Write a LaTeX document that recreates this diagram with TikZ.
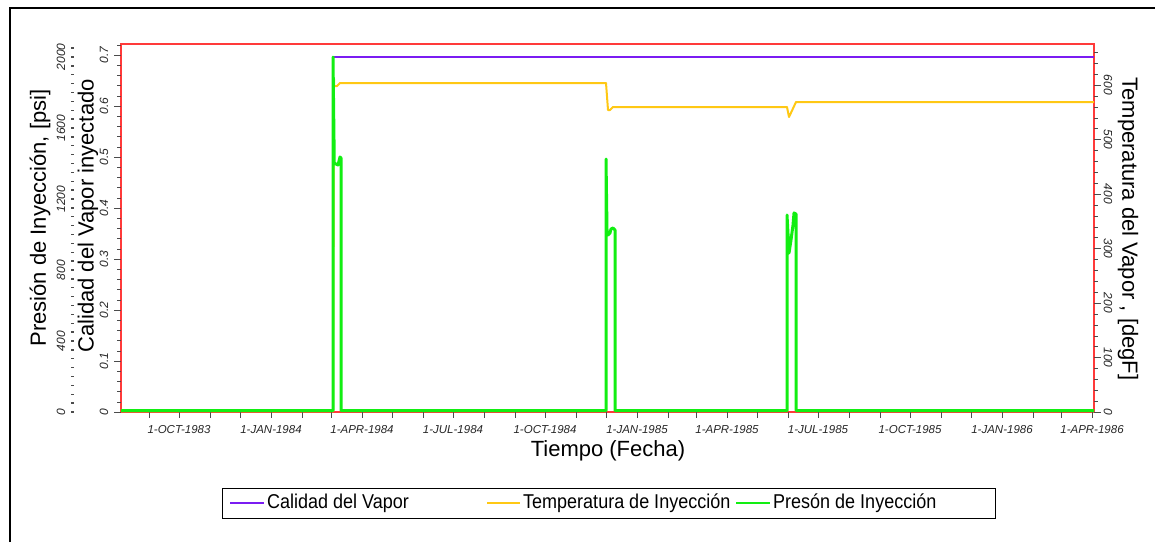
\documentclass[tikz,border=0pt]{standalone}
\usepackage{fontspec}
\setmainfont{Liberation Sans}
\newfontfamily\legfont[FakeStretch=0.9]{Liberation Sans}
\definecolor{plotred}{HTML}{FF3A3A}
\definecolor{calidad}{HTML}{7B1CF2}
\definecolor{tempe}{HTML}{FFC814}
\definecolor{presion}{HTML}{12EE12}
\begin{document}
\begin{tikzpicture}[x=1pt,y=-1pt,
  ticklab/.style={font=\fontsize{12}{14}\selectfont\itshape, text=black!85, inner sep=1pt},
  axtitle/.style={font=\fontsize{22}{26}\selectfont, inner sep=0pt},
  legtext/.style={font=\legfont\fontsize{20}{24}\selectfont, anchor=west, inner sep=2pt},
  serie/.style={line width=2pt, line join=round}]
\useasboundingbox (0,0) rectangle (1155,542);
\draw[line width=2.5pt] (10,542) -- (10,8) -- (1155,8);

% marco del grafico
\draw[plotred, line width=1.2pt] (121,44) rectangle (1094,412);

% eje de presion (psi)
\foreach \p in {0,50,...,2050}
	\draw[black!70, line width=1.3pt] (71,412-\p*0.1775) -- (74,412-\p*0.1775);
\foreach \p in {0,400,...,2000}
	\node[ticklab, rotate=90] (psi\p) at (61,412-\p*0.1775) {\p};

% eje de calidad
\foreach \q in {0,...,36}
	\draw[black!70] (117,412-\q*10.2) -- (121,412-\q*10.2);
\foreach \q in {0,...,7}
	\draw[black!70] (114,412-\q*51) -- (121,412-\q*51);
\node[ticklab, rotate=90] (cal0) at (104,412) {0};
\foreach \q in {1,...,7}
	\node[ticklab, rotate=90] (cal\q) at (104,412-\q*51) {0.\q};

% eje de temperatura
\foreach \t in {0,20,...,660}
	\draw[black!70] (1094,412-\t*0.545) -- (1098,412-\t*0.545);
\foreach \t in {0,100,...,600}
	\draw[black!70, line width=1pt] (1094,412-\t*0.545) -- (1101,412-\t*0.545);
\foreach \t in {0,100,...,600}
	\node[ticklab, rotate=-90] (tem\t) at (1108,412-\t*0.545) {\t};

% eje de tiempo
\foreach \d in {-30,0,31,61,92,123,152,183,213,244,274,305,336,366,397,427,458,489,517,548,578,609,639,670,701,731,762,792,823,854,882,913}
	\draw[black!70] (179+\d,412) -- (179+\d,418);
\foreach \d/\f [count=\i] in {0/1-OCT-1983,92/1-JAN-1984,183/1-APR-1984,274/1-JUL-1984,366/1-OCT-1984,458/1-JAN-1985,548/1-APR-1985,639/1-JUL-1985,731/1-OCT-1985,823/1-JAN-1986,913/1-APR-1986}
	\node[ticklab, font=\fontsize{11.5}{14}\selectfont\itshape, anchor=north] (fecha\i) at (179+\d,424) {\f};

% titulos
\node[axtitle] (ejex) at (608,451) {Tiempo (Fecha)};
\node[axtitle, rotate=90] (ejepsi) at (40,218) {Presión de Inyección, [psi]};
\node[axtitle, rotate=90] (ejecal) at (88,216) {Calidad del Vapor inyectado};
\node[axtitle, rotate=-90] (ejetem) at (1128,229) {Temperatura del Vapor , [degF]};

% series
\draw[serie, calidad] (121,411) -- (333,411) -- (333,57) -- (1094,57);
\draw[serie, tempe] (121,411) -- (333,411) -- (334,79) -- (334,86) -- (337,86) -- (340,83) -- (606,83) -- (608,110) -- (610,110) -- (613,107) -- (787,107) -- (789,117) -- (796,102) -- (1094,102);
\draw[serie, presion, line width=3pt] (121,410.5) -- (333,410.5) -- (333,57) -- (334,140) -- (334,163) -- (338,165) -- (340,157) -- (341,158) -- (341,410.5)
	-- (606,410.5) -- (606,159) -- (607,230) -- (608,235) -- (610,233) -- (611,229) -- (613,228) -- (615,230) -- (615,410.5)
	-- (787,410.5) -- (787,215) -- (789,253) -- (791,240) -- (793,225) -- (794,213) -- (796,214) -- (796,410.5) -- (1094,410.5);

% leyenda
\node[draw, line width=1pt, minimum width=773pt, minimum height=30pt, inner sep=0pt] (leyenda) at (608.5,503) {};
\draw[calidad, line width=1.5pt] (230,503) -- (264,503);
\node[legtext] (legcal) at (265,503) {Calidad del Vapor};
\draw[tempe, line width=1.5pt] (487,503) -- (520,503);
\node[legtext] (legtem) at (521,503) {Temperatura de Inyección};
\draw[presion, line width=1.5pt] (736,503) -- (770,503);
\node[legtext] (legpre) at (771,503) {Presón de Inyección};
\end{tikzpicture}
\end{document}
